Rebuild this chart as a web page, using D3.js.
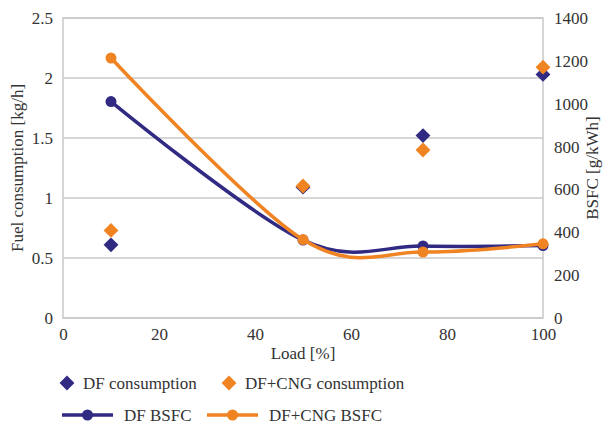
<!DOCTYPE html>
<html>
<head>
<meta charset="utf-8">
<script src="https://cdn.jsdelivr.net/npm/d3@7"></script>
<style>
  body { margin: 0; background: #fff; }
  text { font-family: "Liberation Serif", serif; fill: #333; }
</style>
</head>
<body>
<script>
// Data
const loads = [10, 50, 75, 100];
const dfConsumption = [0.61, 1.09, 1.52, 2.03];
const cngConsumption = [0.73, 1.10, 1.40, 2.09];
const dfBsfc = [1010, 364, 336, 338];
const cngBsfc = [1213, 366, 308, 346];
const xTicks = [0, 20, 40, 60, 80, 100];
const yLeftTicks = [0, 0.5, 1, 1.5, 2, 2.5];
const yRightTicks = [0, 200, 400, 600, 800, 1000, 1200, 1400];

const navy = "#312a83";
const orange = "#f08322";
const fontSize = "17px";
const fontFamily = "Liberation Serif";

let width = 608;
let height = 425;
let marginTop = 18;
let marginRight = 65;
let marginBottom = 107;
let marginLeft = 63;

let x = d3.scaleLinear().domain([0, 100]).range([marginLeft, width - marginRight]);
let yL = d3.scaleLinear().domain([0, 2.5]).range([height - marginBottom, marginTop]);
let yR = d3.scaleLinear().domain([0, 1400]).range([height - marginBottom, marginTop]);

let svg = d3.select("body").append("svg")
    .attr("width", width)
    .attr("height", height)
    .attr("viewBox", [0, 0, width, height]);

// gridlines
svg.append("g")
    .selectAll("line")
    .data(yLeftTicks)
    .join("line")
    .attr("x1", marginLeft)
    .attr("x2", width - marginRight)
    .attr("y1", d => yL(d))
    .attr("y2", d => yL(d))
    .attr("stroke", "#c9c9c9")
    .attr("stroke-width", 1.5);

// plot frame
svg.append("rect")
    .attr("x", marginLeft)
    .attr("y", marginTop)
    .attr("width", width - marginLeft - marginRight)
    .attr("height", height - marginTop - marginBottom)
    .attr("fill", "none")
    .attr("stroke", "#c9c9c9")
    .attr("stroke-width", 1.5);

const styleTicks = g => g.selectAll("text")
    .style("font-size", fontSize)
    .style("font-family", fontFamily)
    .attr("fill", "#333");

// axes
const xAxis = d3.axisBottom(x).tickValues(xTicks).tickSize(0).tickPadding(10);
svg.append("g")
    .attr("transform", `translate(0,${height - marginBottom})`)
    .call(xAxis)
    .call(g => g.select(".domain").remove())
    .call(styleTicks);

const yLeftAxis = d3.axisLeft(yL).tickValues(yLeftTicks).tickSize(0).tickPadding(10)
    .tickFormat(d3.format("~g"));
svg.append("g")
    .attr("transform", `translate(${marginLeft},0)`)
    .call(yLeftAxis)
    .call(g => g.select(".domain").remove())
    .call(styleTicks);

const yRightAxis = d3.axisRight(yR).tickValues(yRightTicks).tickSize(0).tickPadding(11)
    .tickFormat(d3.format("d"));
svg.append("g")
    .attr("transform", `translate(${width - marginRight},0)`)
    .call(yRightAxis)
    .call(g => g.select(".domain").remove())
    .call(styleTicks);

// axis titles
svg.append("text")
    .attr("x", (marginLeft + width - marginRight) / 2)
    .attr("y", 359)
    .attr("text-anchor", "middle")
    .style("font-size", fontSize)
    .style("font-family", fontFamily)
    .text("Load [%]");

svg.append("text")
    .attr("transform", `translate(23,${(marginTop + height - marginBottom) / 2}) rotate(-90)`)
    .attr("text-anchor", "middle")
    .style("font-size", fontSize)
    .style("font-family", fontFamily)
    .text("Fuel consumption [kg/h]");

svg.append("text")
    .attr("transform", `translate(598,${(marginTop + height - marginBottom) / 2}) rotate(-90)`)
    .attr("text-anchor", "middle")
    .style("font-size", fontSize)
    .style("font-family", fontFamily)
    .text("BSFC [g/kWh]");

// BSFC lines
const line = d3.line()
    .x(d => x(d[0]))
    .y(d => yR(d[1]))
    .curve(d3.curveCardinal.tension(0));

const bsfcSeries = [
  { values: dfBsfc, color: navy },
  { values: cngBsfc, color: orange }
];

bsfcSeries.forEach(s => {
  const pts = loads.map((l, i) => [l, s.values[i]]);
  svg.append("path")
      .datum(pts)
      .attr("fill", "none")
      .attr("stroke", s.color)
      .attr("stroke-width", 3.5)
      .attr("d", line);
  svg.append("g")
      .selectAll("circle")
      .data(pts)
      .join("circle")
      .attr("cx", d => x(d[0]))
      .attr("cy", d => yR(d[1]))
      .attr("r", 5.5)
      .attr("fill", s.color);
});

// consumption diamonds
const diamond = d3.symbol().type(d3.symbolSquare).size(110);
const consSeries = [
  { values: dfConsumption, color: navy },
  { values: cngConsumption, color: orange }
];
consSeries.forEach(s => {
  svg.append("g")
      .selectAll("path")
      .data(loads.map((l, i) => [l, s.values[i]]))
      .join("path")
      .attr("d", diamond)
      .attr("transform", d => `translate(${x(d[0])},${yL(d[1])}) rotate(45)`)
      .attr("fill", s.color);
});

// legend
const legend = svg.append("g");
const legendDiamonds = [
  { label: "DF consumption", color: navy, x: 67 },
  { label: "DF+CNG consumption", color: orange, x: 229 }
];
legendDiamonds.forEach(d => {
  legend.append("path")
      .attr("d", diamond)
      .attr("transform", `translate(${d.x},383) rotate(45)`)
      .attr("fill", d.color);
  legend.append("text")
      .attr("x", d.x + 16)
      .attr("y", 383)
      .attr("dy", "0.35em")
      .style("font-size", fontSize)
      .style("font-family", fontFamily)
      .text(d.label);
});

const legendLines = [
  { label: "DF BSFC", color: navy, x: 62 },
  { label: "DF+CNG BSFC", color: orange, x: 207 }
];
legendLines.forEach(d => {
  legend.append("line")
      .attr("x1", d.x)
      .attr("x2", d.x + 51)
      .attr("y1", 415)
      .attr("y2", 415)
      .attr("stroke", d.color)
      .attr("stroke-width", 3.5);
  legend.append("circle")
      .attr("cx", d.x + 25.5)
      .attr("cy", 415)
      .attr("r", 5.5)
      .attr("fill", d.color);
  legend.append("text")
      .attr("x", d.x + 62)
      .attr("y", 415)
      .attr("dy", "0.35em")
      .style("font-size", fontSize)
      .style("font-family", fontFamily)
      .text(d.label);
});
</script>
</body>
</html>
